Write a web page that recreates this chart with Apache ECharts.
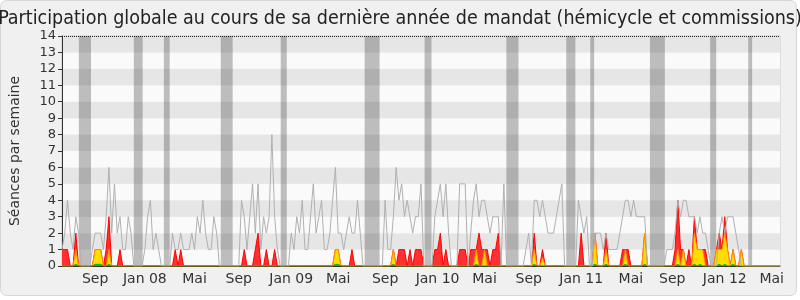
<!DOCTYPE html>
<html><head><meta charset="utf-8">
<script src="https://cdn.jsdelivr.net/npm/echarts@6/dist/echarts.min.js"></script>
<style>html,body{margin:0;padding:0;background:#fff}#c{width:800px;height:300px}</style>
</head><body><div id="c"></div>
<script>
// weekly values, week 0 = mid-June 2007 ... week 260 = early June 2012
const grey = [
1,2,4,2,1,3,2,0,0,0, 0,1,2,2,2,1,3,6,2,5, 2,3,1,1,3,2,0,0,0,0, 1,3,4,1,2,1,0,0,0,0,
2,1,1,2,1,1,1,2,1,3, 2,4,2,1,1,3,2,0,0,0, 0,0,0,0,0,4,3,1,3,5, 2,5,1,3,2,3,8,3,1,0,
0,0,0,2,1,3,2,4,1,1, 3,5,2,3,4,1,1,2,4,6, 2,2,1,2,3,2,2,4,2,0, 0,0,0,0,0,0,0,4,1,1,
3,6,4,5,3,4,3,2,3,3, 5,0,0,0,0,3,4,5,3,5, 2,0,0,0,5,5,5,0,2,4, 5,3,4,4,3,2,3,3,3,0,
5,0,0,0,0,0,0,0,1,2, 0,4,4,3,4,3,2,2,2,3, 4,5,0,0,0,0,0,4,3,2, 3,0,0,2,2,2,1,2,1,1,
1,1,2,3,4,4,3,4,3,3, 3,3,0,0,0,0,0,0,0,1, 1,1,2,4,3,4,4,3,3,3, 2,3,2,2,1,0,0,0,2,3,
2,3,3,3,2,1,0,0,0,0, 0,0,0,0,0,0,0,0,0,0, 0];
const red = [
1,1,1,0,0,2,0,0,0,0, 0,0,1,1,1,0,1,3,0,0, 0,1,0,0,0,0,0,0,0,0, 0,0,0,0,0,0,0,0,0,0,
0,1,0,1,0,0,0,0,0,0, 0,0,0,0,0,0,0,0,0,0, 0,0,0,0,0,0,1,0,0,0, 1,2,0,0,1,0,0,1,0,0,
0,0,0,0,0,0,0,0,0,0, 0,0,0,0,0,0,0,0,0,1, 1,0,0,0,0,1,0,0,0,0, 0,0,0,0,0,0,0,0,0,0,
1,0,1,1,1,0,1,0,1,1, 1,0,0,0,0,1,1,2,0,1, 0,0,0,0,1,1,1,0,1,1, 1,2,1,1,1,0,1,1,2,0,
0,0,0,0,0,0,0,0,0,0, 0,2,0,0,1,0,0,0,0,0, 0,0,0,0,0,0,0,0,2,0, 0,0,0,2,0,0,0,2,0,0,
0,0,0,1,1,1,0,0,0,0, 0,2,0,0,0,0,0,0,0,0, 0,0,1,4,1,1,0,1,0,3, 1,1,1,1,0,0,0,1,2,1,
3,1,0,1,0,0,1,0,0,0, 0,0,0,0,0,0,0,0,0,0, 0];
const yellow = [
0,0,0,0,0,1,0,0,0,0, 0,0,1,1,1,0,0,1,0,0, 0,0,0,0,0,0,0,0,0,0, 0,0,0,0,0,0,0,0,0,0,
0,0,0,0,0,0,0,0,0,0, 0,0,0,0,0,0,0,0,0,0, 0,0,0,0,0,0,0,0,0,0, 0,0,0,0,0,0,0,0,0,0,
0,0,0,0,0,0,0,0,0,0, 0,0,0,0,0,0,0,0,0,1, 1,0,0,0,0,0,0,0,0,0, 0,0,0,0,0,0,0,0,0,0,
1,0,0,0,0,0,0,0,0,0, 0,0,0,0,0,0,0,0,0,0, 0,0,0,0,0,0,0,0,0,0, 1,0,0,1,0,0,0,0,0,0,
0,0,0,0,0,0,0,0,0,0, 0,1,0,0,0.5,0,0,0,0,0, 0,0,0,0,0,0,0,0,0,0, 0,0,0,2,0,0,0,1,0,0,
0,0,0,0,1,0,0,0,0,0, 0,2,0,0,0,0,0,0,0,0, 0,0,0,1,0,1,0,0,0,2, 1,1,1,0,0,0,0,1,1,1,
2,1,0,1,0,0,1,0,0,0, 0,0,0,0,0,0,0,0,0,0, 0];
const green = [
0,0,0,0,0,0.1,0,0,0,0, 0,0,0.1,0.1,0.1,0,0,0.1,0,0, 0,0,0,0,0,0,0,0,0,0, 0,0,0,0,0,0,0,0,0,0,
0,0,0,0,0,0,0,0,0,0, 0,0,0,0,0,0,0,0,0,0, 0,0,0,0,0,0,0,0,0,0, 0,0,0,0,0,0,0,0,0,0,
0,0,0,0,0,0,0,0,0,0, 0,0,0,0,0,0,0,0,0,0.1, 0.1,0,0,0,0,0,0,0,0,0, 0,0,0,0,0,0,0,0,0,0,
0.1,0,0,0,0,0,0,0,0,0, 0,0,0,0,0,0,0,0,0,0, 0,0,0,0,0,0,0,0,0,0, 0.1,0,0,0,0,0,0,0,0,0,
0,0,0,0,0,0,0,0,0,0, 0,0.1,0,0,0,0,0,0,0,0, 0,0,0,0,0,0,0,0,0,0, 0,0,0,0.1,0,0,0,0.1,0,0,
0,0,0,0,0.1,0,0,0,0,0, 0,0.1,0,0,0,0,0,0,0,0, 0,0,0,0.1,0,0,0,0,0,0.1, 0,0.1,0,0,0,0,0,0,0.1,0,
0.1,0,0,0.1,0,0,0,0,0,0, 0,0,0,0,0,0,0,0,0,0, 0];
// parliamentary recesses (week index ranges)
const vacStart = [6.1, 26, 36.9, 57.5, 79.2, 109.6, 131.3, 160.9, 182.6, 191.3, 212.9, 234.7, 248.5];
const vacEnd   = [10.5, 29.2, 39, 61.8, 81.4, 115, 133.8, 165.3, 185.9, 192.7, 218.3, 236.9, 249.9];
// x tick labels
const tickIdx  = [12, 30, 48, 64, 83, 100, 117, 136, 153, 169, 188, 206, 221, 240, 257];
const tickText = ['Sep','Jan 08','Mai','Sep','Jan 09','Mai','Sep','Jan 10','Mai','Sep','Jan 11','Mai','Sep','Jan 12','Mai'];

const labelMap = {};
tickIdx.forEach((k, j) => { labelMap[k] = tickText[j]; });
const pairs = arr => arr.map((v, i) => [i, v]);
const FONT = 'DejaVu Sans';

const chart = echarts.init(document.getElementById('c'), null, {renderer: 'canvas'});
chart.setOption({
  animation: false,
  backgroundColor: '#ffffff',
  graphic: [{
    type: 'rect', z: -10, silent: true,
    shape: {x: 0.5, y: 0.5, width: 796, height: 295, r: 6},
    style: {fill: '#f0f0f0', stroke: '#d6d6d6', lineWidth: 1}
  }],
  title: {
    text: 'Participation globale au cours de sa dernière année de mandat (hémicycle et commissions)',
    left: 'center', top: 4,
    textStyle: {fontFamily: 'DejaVu Sans Condensed, ' + FONT, fontSize: 19.5, fontWeight: 'normal', color: '#222'}
  },
  grid: {left: 61, right: 20, top: 36, bottom: 34, show: true, borderColor: '#c8c8c8', borderWidth: 1, backgroundColor: 'transparent'},
  xAxis: {
    type: 'value', min: 0, max: 260, interval: 1,
    axisLine: {show: true, onZero: false, lineStyle: {color: '#333', width: 1}},
    axisTick: {show: false},
    splitLine: {show: false},
    axisLabel: {
      formatter: v => labelMap[v] || '',
      color: '#333', fontFamily: FONT, fontSize: 14, margin: 6,
      showMinLabel: true, showMaxLabel: true
    }
  },
  yAxis: {
    type: 'value', min: 0, max: 14, interval: 1,
    name: 'Séances par semaine', nameLocation: 'middle', nameGap: 40,
    nameTextStyle: {fontFamily: FONT, fontSize: 14, color: '#333'},
    axisLine: {show: true, lineStyle: {color: '#333', width: 1}},
    axisTick: {show: true, length: 4, lineStyle: {color: '#333'}},
    axisLabel: {color: '#333', fontFamily: FONT, fontSize: 13, margin: 6},
    splitLine: {show: false},
    splitArea: {show: true, areaStyle: {color: ['#fafafa', '#e6e6e6']}}
  },
  series: [
    {
      name: 'vac', type: 'line', z: 1, data: pairs(grey), symbol: 'none',
      lineStyle: {opacity: 0}, silent: true,
      markArea: {
        silent: true,
        itemStyle: {color: 'rgba(50,50,50,0.3)'},
        data: vacStart.map((s, j) => [{xAxis: s}, {xAxis: vacEnd[j]}])
      }
    },
    {
      name: 'rouge', type: 'line', z: 3, data: pairs(red), symbol: 'none',
      lineStyle: {color: '#ff0000', width: 1},
      areaStyle: {color: '#ff3030', opacity: 1}
    },
    {
      name: 'jaune', type: 'line', z: 4, data: pairs(yellow), symbol: 'none',
      lineStyle: {color: '#ff9000', width: 1},
      areaStyle: {color: '#ffdd00', opacity: 1}
    },
    {
      name: 'vert', type: 'line', z: 5, data: pairs(green), symbol: 'none',
      lineStyle: {color: '#00b000', width: 1},
      areaStyle: {color: '#00cc00', opacity: 1}
    },
    {
      name: 'gris', type: 'line', z: 6, data: pairs(grey), symbol: 'none',
      lineStyle: {color: '#b0b0b0', width: 1},
      markLine: {
        silent: true, symbol: 'none', label: {show: false},
        lineStyle: {type: 'dotted', color: '#222', width: 1},
        data: [{yAxis: 14}]
      }
    }
  ]
});
</script></body></html>
